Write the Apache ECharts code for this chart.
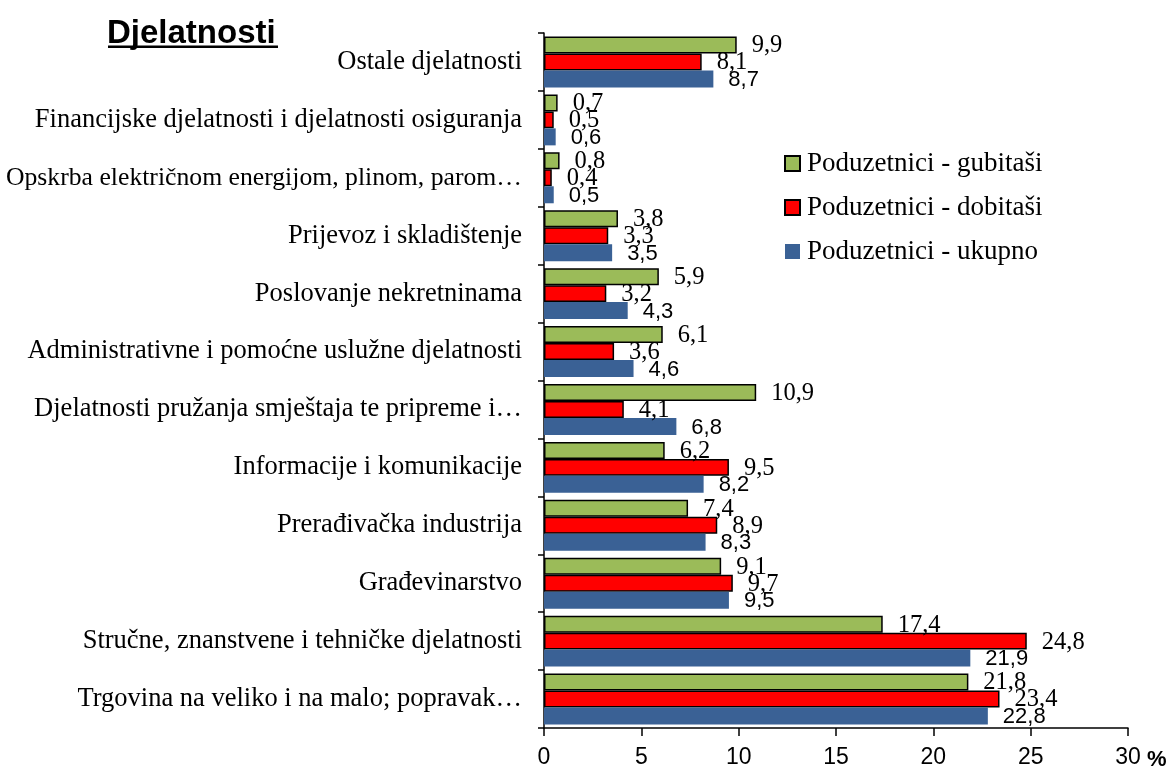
<!DOCTYPE html>
<html>
<head>
<meta charset="utf-8">
<script src="https://cdn.jsdelivr.net/npm/echarts@6/dist/echarts.min.js"></script>
<style>html,body{margin:0;padding:0;background:#fff}#c{width:1170px;height:772px}</style>
</head>
<body>
<div id="c"></div>
<script>
const categories = [
  "Trgovina na veliko i na malo; popravak…",
  "Stručne, znanstvene i tehničke djelatnosti",
  "Građevinarstvo",
  "Prerađivačka industrija",
  "Informacije i komunikacije",
  "Djelatnosti pružanja smještaja te pripreme i…",
  "Administrativne i pomoćne uslužne djelatnosti",
  "Poslovanje nekretninama",
  "Prijevoz i skladištenje",
  "Opskrba električnom energijom, plinom, parom…",
  "Financijske djelatnosti i djelatnosti osiguranja",
  "Ostale djelatnosti"
];
const ukupno   = [22.8, 21.9, 9.5, 8.3, 8.2, 6.8, 4.6, 4.3, 3.5, 0.5, 0.6, 8.7];
const dobitasi = [23.4, 24.8, 9.7, 8.9, 9.5, 4.1, 3.6, 3.2, 3.3, 0.4, 0.5, 8.1];
const gubitasi = [21.8, 17.4, 9.1, 7.4, 6.2, 10.9, 6.1, 5.9, 3.8, 0.8, 0.7, 9.9];
const seriesNames = ["Poduzetnici - gubitaši", "Poduzetnici - dobitaši", "Poduzetnici - ukupno"];
const xTicks = [0, 5, 10, 15, 20, 25, 30];

const serif = "Liberation Serif";
const sans = "Liberation Sans";
const fmt = p => String(p.value).replace('.', ',');

// the longest label is set a touch narrower so that it fits inside the left edge
const catData = categories.map(c => c.indexOf('Opskrba') === 0
  ? { value: c, textStyle: { fontSize: 25.7 } } : c);

const chart = echarts.init(document.getElementById('c'));
chart.setOption({
  animation: false,
  grid: { left: 544, right: 42, top: 33, bottom: 44, containLabel: false, outerBoundsMode: 'none' },
  legend: {
    orient: 'vertical',
    left: 784, top: 150, padding: 0,
    data: seriesNames,
    icon: 'rect',
    itemWidth: 15, itemHeight: 15, itemGap: 17,
    textStyle: { fontFamily: serif, fontSize: 27, color: '#000', padding: [0,0,0,2] }
  },
  xAxis: {
    type: 'value', min: xTicks[0], max: xTicks[xTicks.length-1], interval: 5,
    splitLine: { show: false },
    axisLine: { show: true, lineStyle: { color: '#000', width: 1.5 } },
    axisTick: { show: true, length: 8, lineStyle: { color: '#000', width: 1.5 } },
    axisLabel: { fontFamily: sans, fontSize: 23, color: '#000', margin: 18 }
  },
  yAxis: {
    type: 'category', data: catData,
    axisLine: { lineStyle: { color: '#000', width: 1.5 } },
    axisTick: { show: true, length: 6, lineStyle: { color: '#000', width: 1.5 } },
    axisLabel: { fontFamily: serif, fontSize: 26.5, color: '#000', margin: 22 }
  },
  series: [
    {
      name: seriesNames[0], type: 'bar', data: gubitasi,
      barGap: '0%', barCategoryGap: '12%',
      itemStyle: { color: '#9BBB59', borderColor: '#000', borderWidth: 1.5 },
      label: { show: true, position: 'right', distance: 15, formatter: fmt,
               fontFamily: serif, fontSize: 24.5, color: '#000', offset: [0, 1] }
    },
    {
      name: seriesNames[1], type: 'bar', data: dobitasi,
      barGap: '0%', barCategoryGap: '12%',
      itemStyle: { color: '#FF0000', borderColor: '#000', borderWidth: 1.5 },
      label: { show: true, position: 'right', distance: 15, formatter: fmt,
               fontFamily: serif, fontSize: 24.5, color: '#000', offset: [0, 1] }
    },
    {
      name: seriesNames[2], type: 'bar', data: ukupno,
      barGap: '0%', barCategoryGap: '12%',
      itemStyle: { color: '#3A6195' },
      label: { show: true, position: 'right', distance: 15, formatter: fmt,
               fontFamily: sans, fontSize: 22, color: '#000', offset: [0, 1] }
    }
  ],
  graphic: [
    { type: 'text', left: 107, top: 17,
      style: { text: 'Djelatnosti', font: 'bold 33px "Liberation Sans"', fill: '#000' } },
    { type: 'rect', left: 108, top: 45.5, shape: { width: 170, height: 2.5 }, style: { fill: '#000' } },
    { type: 'text', left: 1147, top: 749,
      style: { text: '%', font: 'bold 22px "Liberation Sans"', fill: '#000' } }
  ]
});
</script>
</body>
</html>
